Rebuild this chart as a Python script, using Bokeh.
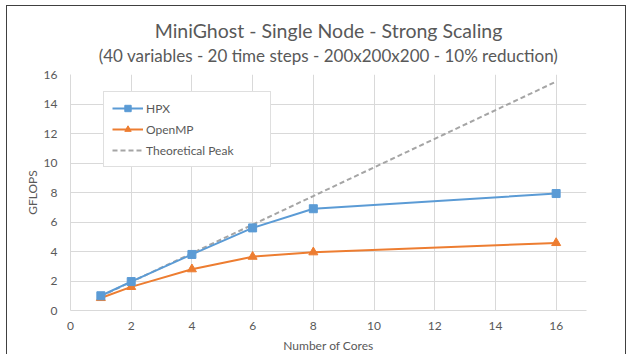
from bokeh.plotting import figure
from bokeh.models import Title, Legend, LegendItem, FixedTicker, Range1d
from bokeh.embed import file_html
from bokeh.resources import INLINE

cores = [1, 2, 4, 6, 8, 16]
hpx = [1.0, 1.96, 3.8, 5.6, 6.9, 7.93]
openmp = [0.85, 1.6, 2.8, 3.65, 3.95, 4.58]
peak = [0.97, 1.94, 3.88, 5.82, 7.76, 15.52]
x_ticks = [0, 2, 4, 6, 8, 10, 12, 14, 16]
y_ticks = [0, 2, 4, 6, 8, 10, 12, 14, 16]

FONT = "Lato"
TXT = "#595959"
GRID = "#D9D9D9"

p = figure(width=620, height=349, output_backend="svg", toolbar_location=None,
           x_range=Range1d(0, 17), y_range=Range1d(0, 16),
           min_border_left=63, min_border_right=41, min_border_top=68, min_border_bottom=44,
           styles={"border-left": "1px solid #404040", "border-top": "1px solid #404040",
                   "border-right": "1px solid #404040",
                   "margin-left": "6px", "margin-top": "5px"})
p.outline_line_color = None

p.add_layout(Title(text="(40 variables - 20 time steps - 200x200x200 - 10% reduction)",
                   align="center", text_font=FONT, text_font_size="17px", standoff=17,
                   text_font_style="normal", text_color=TXT), "above")
p.add_layout(Title(text="MiniGhost - Single Node - Strong Scaling",
                   align="center", text_font=FONT, text_font_size="19.5px", standoff=-14,
                   text_font_style="normal", text_color=TXT), "above")

for ax in (p.xaxis[0], p.yaxis[0]):
    ax.major_tick_line_color = None
    ax.minor_tick_line_color = None
    ax.major_tick_out = 0
    ax.major_tick_in = 0
    ax.minor_tick_out = 0
    ax.minor_tick_in = 0
    ax.axis_line_color = GRID
    ax.axis_line_width = 1
    ax.major_label_text_font = FONT
    ax.major_label_text_font_size = "12px"
    ax.major_label_text_color = TXT
    ax.axis_label_text_font = FONT
    ax.axis_label_text_font_size = "12px"
    ax.axis_label_text_font_style = "normal"
    ax.axis_label_text_color = TXT

p.xaxis.ticker = FixedTicker(ticks=x_ticks)
p.yaxis.ticker = FixedTicker(ticks=y_ticks)
p.xaxis.axis_label = "Number of Cores"
p.yaxis.axis_label = "GFLOPS"
p.xaxis.major_label_standoff = 11
p.xaxis.axis_label_standoff = 5
p.yaxis.major_label_standoff = 13
p.yaxis.axis_label_standoff = 1

p.xgrid.ticker = FixedTicker(ticks=x_ticks)
p.ygrid.ticker = FixedTicker(ticks=y_ticks)
p.xgrid.grid_line_color = GRID
p.ygrid.grid_line_color = GRID

blue = "#5B9BD5"
orange = "#ED7D31"
gray = "#A5A5A5"

r_peak = p.line(cores, peak, line_color=gray, line_width=2, line_dash="5 3")
r_omp_l = p.line(cores, openmp, line_color=orange, line_width=2)
r_omp_m = p.scatter(cores, openmp, marker="triangle", size=9, fill_color=orange, line_color=orange)
r_hpx_l = p.line(cores, hpx, line_color=blue, line_width=2)
r_hpx_m = p.scatter(cores, hpx, marker="square", size=8, fill_color=blue, line_color=blue)

legend = Legend(items=[
    LegendItem(label="HPX", renderers=[r_hpx_l, r_hpx_m]),
    LegendItem(label="OpenMP", renderers=[r_omp_l, r_omp_m]),
    LegendItem(label="Theoretical Peak", renderers=[r_peak]),
], location=(33, 143))
legend.label_text_font = FONT
legend.label_text_font_size = "12px"
legend.label_text_color = TXT
legend.border_line_color = "#BFBFBF"
legend.border_line_width = 1
legend.background_fill_alpha = 1
legend.padding = 8
legend.spacing = 5
legend.margin = 0
legend.glyph_width = 31
legend.glyph_height = 16
legend.label_height = 16
legend.label_width = 116
legend.label_standoff = 3
p.add_layout(legend)

open("out.html", "w").write(file_html(p, INLINE))
